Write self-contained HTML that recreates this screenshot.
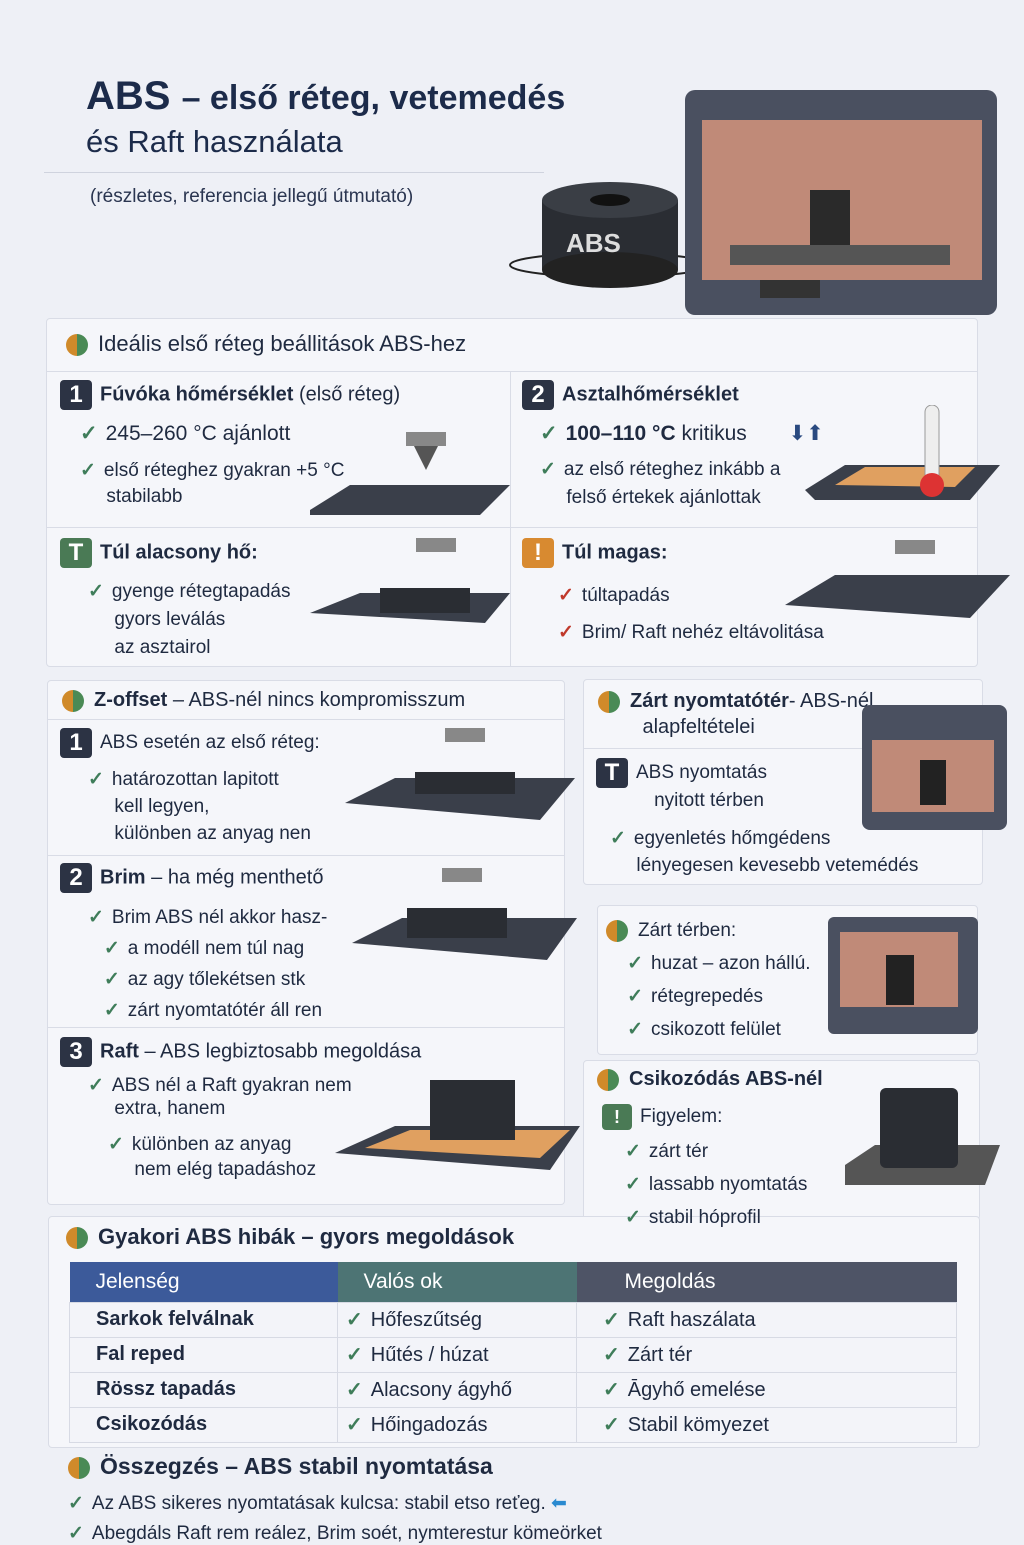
<!DOCTYPE html><html><head><meta charset="utf-8"><style>
*{margin:0;padding:0;box-sizing:border-box}
body{width:1024px;height:1536px;overflow:hidden;background:#eef0f6;font-family:"Liberation Sans",sans-serif;color:#1f2a40;position:relative}
.a{position:absolute;white-space:nowrap;z-index:1}
.p{position:absolute;background:#f5f6fa;border:1px solid #d9dce6;border-radius:4px}
.c{color:#3f7d5a;font-weight:bold;margin-right:8px}
.r{color:#c0392b;font-weight:bold;margin-right:8px}
.n{display:inline-block;width:32px;height:30px;background:#2c3344;color:#fff;border-radius:4px;text-align:center;font-weight:bold;font-size:24px;line-height:30px;margin-right:8px;vertical-align:middle}
.ic{display:inline-block;width:22px;height:22px;border-radius:50%;background:linear-gradient(90deg,#d08a2a 50%,#4a8a55 50%);vertical-align:middle;margin-right:10px}
.f20{font-size:20px}.f19{font-size:19px}.f22{font-size:22px}
table{border-collapse:collapse;position:absolute;left:69px;top:1262px;width:888px;font-size:20px}
td{border:1px solid #d7dae4;padding-left:26px;height:35px;background:#f3f4f9}
th{height:40px;text-align:left;padding-left:26px;color:#fff;font-weight:normal;font-size:21px}
</style></head><body>
<div class="a" style="left:86px;top:74px;font-size:40px;font-weight:bold;color:#1c2b4a">ABS <span style="font-size:34px">– első réteg, vetemedés</span></div>
<div class="a" style="left:86px;top:124px;font-size:31px;color:#1c2b4a">és Raft használata</div>
<div class="a" style="left:44px;top:172px;width:500px;height:1px;background:#cfd3de"></div>
<div class="a" style="left:90px;top:186px;font-size:19px;color:#2a3550">(részletes, referencia jellegű útmutató)</div>
<svg class="a" style="left:470px;top:80px" width="554" height="245">
<ellipse cx="140" cy="185" rx="100" ry="12" fill="none" stroke="#222" stroke-width="2"/>
<rect x="72" y="120" width="136" height="70" fill="#2a2d33"/><ellipse cx="140" cy="120" rx="68" ry="18" fill="#3a3e45"/><ellipse cx="140" cy="190" rx="68" ry="18" fill="#222"/><ellipse cx="140" cy="120" rx="20" ry="6" fill="#111"/>
<text x="96" y="172" font-size="26" font-weight="bold" fill="#ddd" font-family="Liberation Sans">ABS</text>
<rect x="215" y="10" width="312" height="225" rx="10" fill="#4a5060"/><rect x="232" y="40" width="280" height="160" fill="#c08a78"/><rect x="340" y="110" width="40" height="60" fill="#2a2a2a"/><rect x="260" y="165" width="220" height="20" fill="#555"/><rect x="290" y="200" width="60" height="18" fill="#333"/></svg>
<div class="p" style="left:46px;top:318px;width:932px;height:349px"></div>
<div class="a f22" style="left:66px;top:331px"><span class="ic"></span>Ideális első réteg beállitások ABS-hez</div>
<div class="a" style="left:46px;top:371px;width:932px;height:1px;background:#d9dce6"></div>
<div class="a" style="left:510px;top:371px;width:1px;height:296px;background:#d9dce6"></div>
<div class="a" style="left:46px;top:527px;width:932px;height:1px;background:#d9dce6"></div>
<div class="a f20" style="left:60px;top:380px"><span class="n">1</span><b>Fúvóka hőmérséklet</b> (első réteg)</div>
<div class="a" style="left:80px;top:421px;font-size:21px"><span class="c">✓</span>245–260 °C ajánlott</div>
<div class="a f19" style="left:80px;top:458px;line-height:26px"><span class="c">✓</span>első réteghez gyakran +5 °C<br>&nbsp;&nbsp;&nbsp;&nbsp;&nbsp;stabilabb</div>
<svg class="a" style="left:310px;top:430px" width="200" height="95"><path d="M0 80 L40 55 H200 L170 85 H0Z" fill="#3a3f4a"/><rect x="96" y="2" width="40" height="14" fill="#888"/><path d="M104 16 H128 L116 40Z" fill="#555"/></svg>
<div class="a f20" style="left:522px;top:380px"><span class="n">2</span><b>Asztalhőmérséklet</b></div>
<div class="a" style="left:540px;top:421px;font-size:21px"><span class="c">✓</span><b>100–110 °C</b> kritikus <span style="color:#2a4a80;margin-left:36px">⬇⬆</span></div>
<div class="a f19" style="left:540px;top:456px;line-height:28px"><span class="c">✓</span>az első réteghez inkább a<br>&nbsp;&nbsp;&nbsp;&nbsp;&nbsp;felső értekek ajánlottak</div>
<svg class="a" style="left:805px;top:405px" width="200" height="105"><path d="M0 85 L40 60 H195 L165 95 H10Z" fill="#3a3f4a"/><path d="M30 80 L60 62 H170 L150 82Z" fill="#e0a060"/><rect x="120" y="0" width="14" height="80" rx="7" fill="#eee" stroke="#999"/><circle cx="127" cy="80" r="12" fill="#d33"/></svg>
<div class="a f20" style="left:60px;top:538px"><span class="n" style="background:#4a7a55">T</span><b>Túl alacsony hő:</b></div>
<div class="a f19" style="left:88px;top:578px;line-height:28px"><span class="c">✓</span>gyenge rétegtapadás<br>&nbsp;&nbsp;&nbsp;&nbsp;&nbsp;gyors leválás<br>&nbsp;&nbsp;&nbsp;&nbsp;&nbsp;az asztairol</div>
<svg class="a" style="left:310px;top:538px" width="200" height="90"><path d="M0 75 L50 55 H200 L175 85Z" fill="#3a3f4a"/><rect x="70" y="50" width="90" height="25" fill="#2a2d33"/><rect x="106" y="0" width="40" height="14" fill="#888"/></svg>
<div class="a f20" style="left:522px;top:538px"><span class="n" style="background:#d88a30">!</span><b>Túl magas:</b></div>
<div class="a f19" style="left:558px;top:577px;line-height:37px"><span class="r">✓</span>túltapadás<br><span class="r">✓</span>Brim/ Raft nehéz eltávolitása</div>
<svg class="a" style="left:785px;top:540px" width="225" height="85"><path d="M0 65 L50 35 H225 L185 78Z" fill="#3a3f4a"/><rect x="110" y="0" width="40" height="14" fill="#888"/></svg>
<div class="p" style="left:47px;top:680px;width:518px;height:525px"></div>
<div class="a" style="left:47px;top:719px;width:518px;height:1px;background:#d9dce6"></div>
<div class="a" style="left:47px;top:855px;width:518px;height:1px;background:#d9dce6"></div>
<div class="a" style="left:47px;top:1027px;width:518px;height:1px;background:#d9dce6"></div>
<div class="a f20" style="left:62px;top:689px"><span class="ic"></span><b>Z-offset</b> – ABS-nél nincs kompromisszum</div>
<div class="a f19" style="left:60px;top:728px"><span class="n">1</span>ABS esetén az első réteg:</div>
<div class="a f19" style="left:88px;top:766px;line-height:27px"><span class="c">✓</span>határozottan lapitott<br>&nbsp;&nbsp;&nbsp;&nbsp;&nbsp;kell legyen,<br>&nbsp;&nbsp;&nbsp;&nbsp;&nbsp;különben az anyag nen</div>
<svg class="a" style="left:345px;top:728px" width="230" height="96"><path d="M0 75 L50 50 H230 L195 92Z" fill="#3a3f4a"/><rect x="70" y="44" width="100" height="22" fill="#2a2d33"/><rect x="100" y="0" width="40" height="14" fill="#888"/></svg>
<div class="a f20" style="left:60px;top:863px"><span class="n">2</span><b>Brim</b> – ha még menthető</div>
<div class="a f19" style="left:88px;top:902px;line-height:31px"><span class="c">✓</span>Brim ABS nél akkor hasz-<br>&nbsp;&nbsp;&nbsp;<span class="c">✓</span>a modéll nem túl nag<br>&nbsp;&nbsp;&nbsp;<span class="c">✓</span>az agy tőlekétsen stk<br>&nbsp;&nbsp;&nbsp;<span class="c">✓</span>zárt nyomtatótér áll ren</div>
<svg class="a" style="left:352px;top:868px" width="225" height="96"><path d="M0 75 L50 50 H225 L195 92Z" fill="#3a3f4a"/><rect x="55" y="40" width="100" height="30" fill="#2a2d33"/><rect x="90" y="0" width="40" height="14" fill="#888"/></svg>
<div class="a f20" style="left:60px;top:1037px"><span class="n">3</span><b>Raft</b> – ABS legbiztosabb megoldása</div>
<div class="a f19" style="left:88px;top:1074px;line-height:23px"><span class="c">✓</span>ABS nél a Raft gyakran nem<br>&nbsp;&nbsp;&nbsp;&nbsp;&nbsp;extra, hanem</div>
<div class="a f19" style="left:108px;top:1132px;line-height:25px"><span class="c">✓</span>különben az anyag<br>&nbsp;&nbsp;&nbsp;&nbsp;&nbsp;nem elég tapadáshoz</div>
<svg class="a" style="left:335px;top:1078px" width="245" height="98"><path d="M0 75 L60 48 H245 L215 92Z" fill="#3a3f4a"/><path d="M30 70 L75 52 H235 L205 80Z" fill="#e0a060"/><rect x="95" y="2" width="85" height="60" fill="#2a2d33"/></svg>
<div class="p" style="left:583px;top:679px;width:400px;height:206px"></div>
<div class="a" style="left:583px;top:748px;width:280px;height:1px;background:#d9dce6"></div>
<div class="a f20" style="left:598px;top:688px;line-height:26px"><span class="ic"></span><b>Zárt nyomtatótér</b>- ABS-nél<br>&nbsp;&nbsp;&nbsp;&nbsp;&nbsp;&nbsp;&nbsp;&nbsp;alapfeltételei</div>
<div class="a f19" style="left:596px;top:758px;line-height:26px"><span class="n">T</span>ABS nyomtatás<br>&nbsp;&nbsp;&nbsp;&nbsp;&nbsp;&nbsp;&nbsp;&nbsp;&nbsp;&nbsp;&nbsp;nyitott térben</div>
<div class="a f19" style="left:610px;top:825px;line-height:27px"><span class="c">✓</span>egyenletés hőmgédens<br>&nbsp;&nbsp;&nbsp;&nbsp;&nbsp;lényegesen kevesebb vetemédés</div>
<svg class="a" style="left:862px;top:705px" width="145" height="125"><rect x="0" y="0" width="145" height="125" rx="8" fill="#4a5060"/><rect x="10" y="35" width="122" height="72" fill="#c08a78"/><rect x="58" y="55" width="26" height="45" fill="#222"/></svg>
<div class="p" style="left:597px;top:905px;width:381px;height:150px"></div>
<div class="a f19" style="left:606px;top:914px;line-height:33px"><span class="ic"></span>Zárt térben:<br>&nbsp;&nbsp;&nbsp;&nbsp;<span class="c">✓</span>huzat – azon hállú.<br>&nbsp;&nbsp;&nbsp;&nbsp;<span class="c">✓</span>rétegrepedés<br>&nbsp;&nbsp;&nbsp;&nbsp;<span class="c">✓</span>csikozott felület</div>
<svg class="a" style="left:828px;top:917px" width="150" height="117"><rect x="0" y="0" width="150" height="117" rx="6" fill="#4a5060"/><rect x="12" y="15" width="118" height="75" fill="#c08a78"/><rect x="58" y="38" width="28" height="50" fill="#222"/></svg>
<div class="p" style="left:583px;top:1060px;width:397px;height:160px"></div>
<div class="p" style="left:48px;top:1216px;width:932px;height:232px;background:#f5f6fa"></div>
<div class="a f20" style="left:597px;top:1068px"><span class="ic"></span><b>Csikozódás ABS-nél</b></div>
<div class="a f19" style="left:602px;top:1104px"><span class="n" style="background:#4a7a55;width:30px;height:26px;line-height:26px;font-size:18px">!</span>Figyelem:</div>
<div class="a f19" style="left:625px;top:1135px;line-height:33px"><span class="c">✓</span>zárt tér<br><span class="c">✓</span>lassabb nyomtatás<br><span class="c">✓</span>stabil hóprofil</div>
<svg class="a" style="left:845px;top:1080px" width="160" height="110"><path d="M0 85 L30 65 H155 L140 105 H0Z" fill="#555"/><rect x="35" y="8" width="78" height="80" rx="6" fill="#2a2d33"/></svg>
<div class="a" style="left:66px;top:1224px;font-size:22px"><span class="ic"></span><b>Gyakori ABS hibák – gyors megoldások</b></div>
<table style="z-index:1"><tr><th style="background:#3c5a9a;width:268px">Jelenség</th><th style="background:#4d7474;width:239px">Valós ok</th><th style="background:#4e5466;padding-left:48px">Megoldás</th></tr>
<tr><td><b>Sarkok felválnak</b></td><td style="padding-left:8px"><span class="c">✓</span>Hőfeszűtség</td><td><span class="c">✓</span>Raft haszálata</td></tr>
<tr><td><b>Fal reped</b></td><td style="padding-left:8px"><span class="c">✓</span>Hűtés / húzat</td><td><span class="c">✓</span>Zárt tér</td></tr>
<tr><td><b>Rössz tapadás</b></td><td style="padding-left:8px"><span class="c">✓</span>Alacsony ágyhő</td><td><span class="c">✓</span>Āgyhő emelése</td></tr>
<tr><td><b>Csikozódás</b></td><td style="padding-left:8px"><span class="c">✓</span>Hőingadozás</td><td><span class="c">✓</span>Stabil kömyezet</td></tr></table>
<div class="a" style="left:68px;top:1453px;font-size:23px"><span class="ic"></span><b>Összegzés – ABS stabil nyomtatása</b></div>
<div class="a f19" style="left:68px;top:1492px"><span class="c">✓</span>Az ABS sikeres nyomtatásak kulcsa: stabil etso reťeg. <span style="color:#2a8ad0">⬅</span></div>
<div class="a f19" style="left:68px;top:1522px"><span class="c">✓</span>Abegdáls Raft rem reález, Brim soét, nymterestur kömeörket</div>
</body></html>
